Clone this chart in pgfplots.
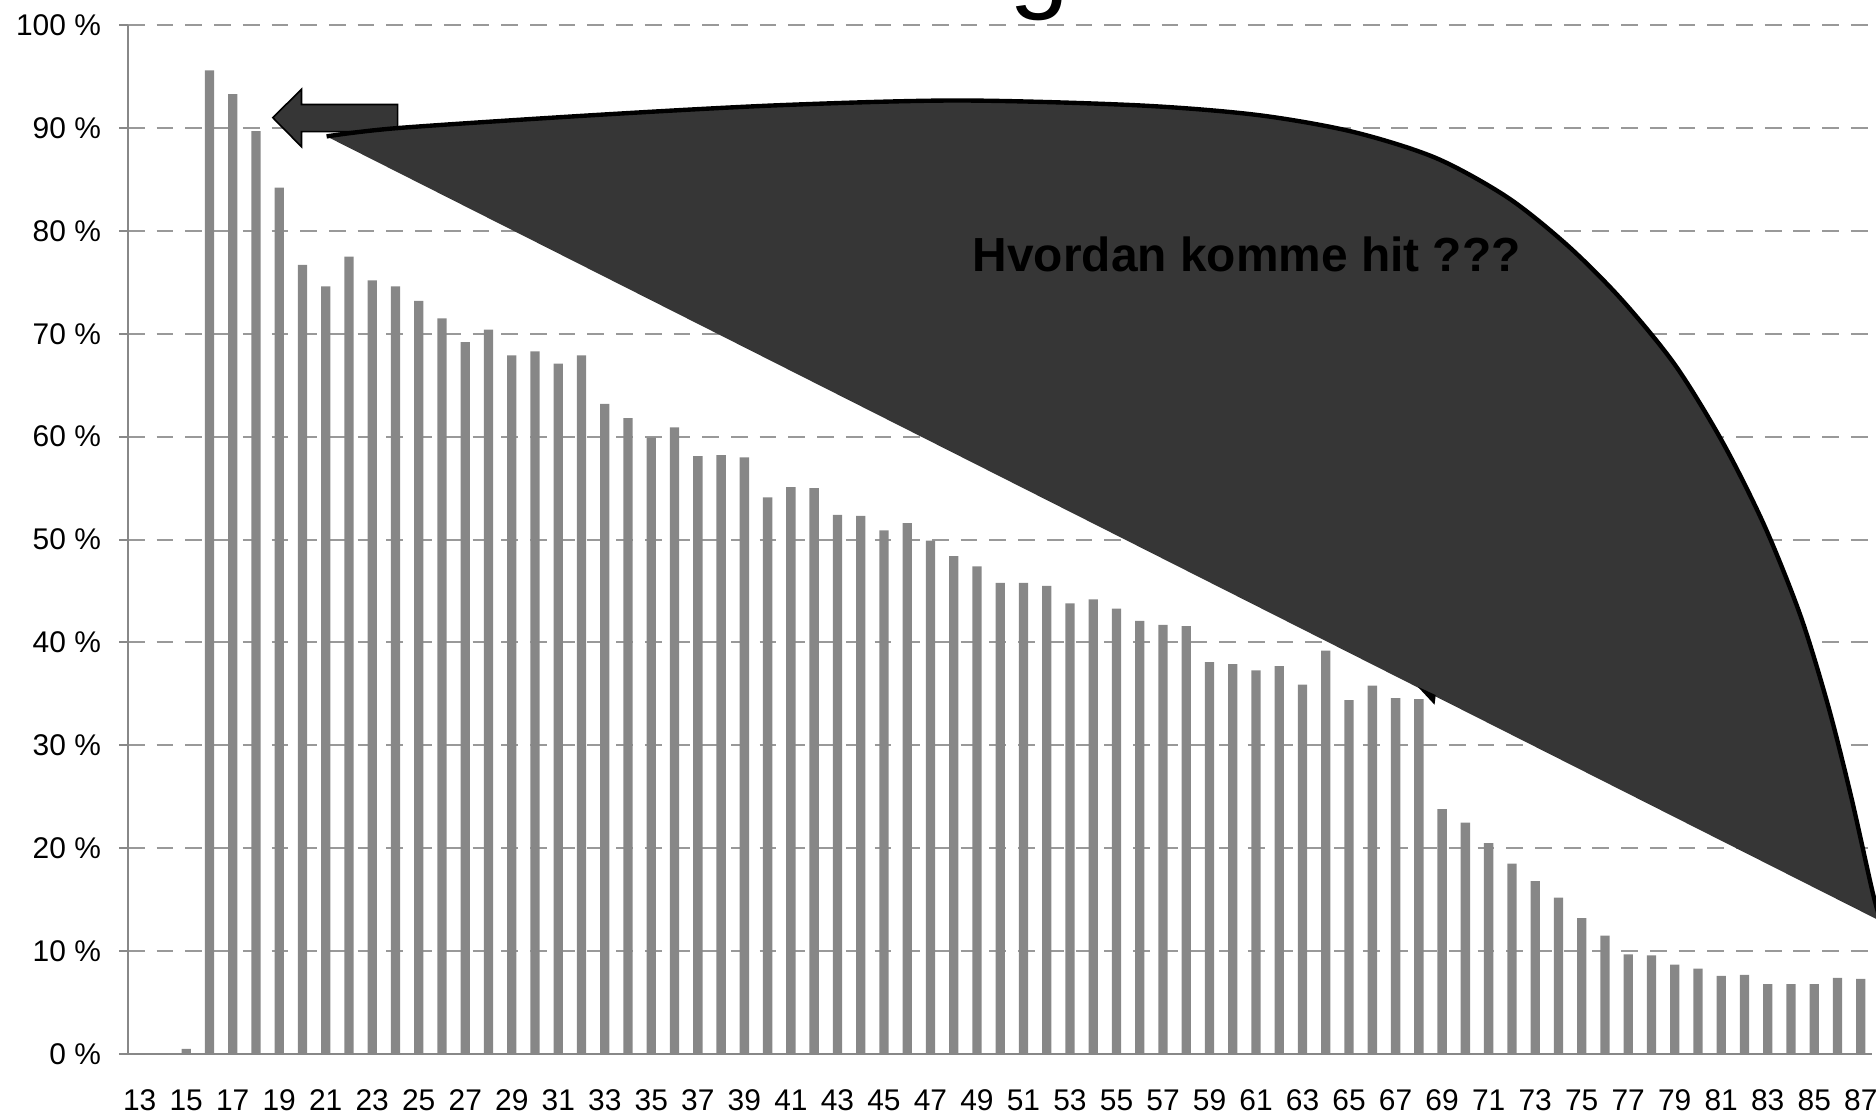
\documentclass[border=0pt]{standalone}
\usepackage{pgfplots}
\pgfplotsset{compat=1.18}
\usepackage{fontspec}
\setmainfont{Liberation Sans}
\definecolor{bargray}{HTML}{878787}
\definecolor{darkfill}{HTML}{363636}
\definecolor{axgray}{HTML}{888888}
\definecolor{gridgray}{HTML}{999999}
\pgfplotstableread{
age val
13 0
14 0
15 0.5
16 95.6
17 93.3
18 89.7
19 84.2
20 76.7
21 74.6
22 77.5
23 75.2
24 74.6
25 73.2
26 71.5
27 69.2
28 70.4
29 67.9
30 68.3
31 67.1
32 67.9
33 63.2
34 61.8
35 59.9
36 60.9
37 58.1
38 58.2
39 58.0
40 54.1
41 55.1
42 55.0
43 52.4
44 52.3
45 50.9
46 51.6
47 49.9
48 48.4
49 47.4
50 45.8
51 45.8
52 45.5
53 43.8
54 44.2
55 43.3
56 42.1
57 41.7
58 41.6
59 38.1
60 37.9
61 37.3
62 37.7
63 35.9
64 39.2
65 34.4
66 35.8
67 34.6
68 34.5
69 23.8
70 22.5
71 20.5
72 18.5
73 16.8
74 15.2
75 13.2
76 11.5
77 9.7
78 9.6
79 8.7
80 8.3
81 7.6
82 7.7
83 6.8
84 6.8
85 6.8
86 7.4
87 7.3
}\datatable
\begin{document}
\begin{tikzpicture}
\begin{axis}[
  at={(0pt,0pt)}, anchor=south west,
  width=437.4pt, height=258pt, scale only axis,
  xmin=12.5, xmax=87.5, ymin=0, ymax=100,
  axis x line*=bottom, axis y line*=left,
  axis line style={draw=axgray, line width=0.6pt},
  tick align=outside,
  font=\fontsize{7.5}{9}\selectfont,
  /pgf/number format/assume math mode=true,
  xtick={13,15,...,87},
  xtick style={draw=none},
  extra x ticks={12.5,13.5,...,87.5},
  extra x tick labels={},
  extra x tick style={major tick length=2.2pt, tick style={draw=axgray, line width=0.5pt}, grid=none},
  xticklabel style={anchor=north, inner sep=0pt, yshift=-6.5pt},
  ytick={0,10,...,100},
  yticklabels={0 \%,10 \%,20 \%,30 \%,40 \%,50 \%,60 \%,70 \%,80 \%,90 \%,100 \%},
  ytick style={draw=axgray, line width=0.5pt},
  major tick length=2.2pt,
  yticklabel style={anchor=east, inner sep=0pt, xshift=-4.4pt},
  ymajorgrids,
  grid style={draw=gridgray, line width=0.5pt, dash pattern=on 4.2pt off 3pt},
]
\addplot[ybar, fill=bargray, draw=none, bar width=0.4] table[x=age, y=val] {\datatable};
\end{axis}
\begin{scope}[x=1pt, y=1pt]
% title (mostly cropped above the page)
\node[anchor=base west, inner sep=0pt, font=\fontsize{27}{30}\selectfont] at (93.4,264.6) {Yrkesdeltagelse etter alder};
% small left arrow
\filldraw[fill=darkfill, draw=black, line width=0.4pt]
  (36.3,234.8) -- (43.5,241.9) -- (43.5,238.1) -- (67.6,238.1) -- (67.6,231.3) -- (43.5,231.3) -- (43.5,227.5) -- cycle;
% big dark callout shape
\def\topcurve{(49.8,230.1) (67.8,232.2) (117.9,235.5) (162.9,237.9) (207.9,239.1) (252.9,237.9)
  (282.9,235.5) (306.9,231.3) (327.9,224.7) (345.9,214.8) (360.9,202.8) (374.4,189.3)
  (387.9,172.8) (399.9,153.3) (410.4,132.3) (419.4,109.8) (426.3,87.3) (432.0,64.8)
  (437.4,40.8) (439.5,33.3)}
\fill[darkfill] plot[smooth, tension=0.5] coordinates {\topcurve} -- cycle;
\draw[line width=1.1pt, line cap=butt] plot[smooth, tension=0.5] coordinates {\topcurve};
\fill[black] (323.4,92.1) -- (327.6,87.6) -- (327.9,90) -- cycle;
\node[font=\fontsize{12}{14}\bfseries\selectfont] at (280.5,200.4) {Hvordan komme hit ???};
\end{scope}
\pgfresetboundingbox
\useasboundingbox (-32.1pt,-14.4pt) rectangle (438.3pt,264.3pt);
\end{tikzpicture}
\end{document}
